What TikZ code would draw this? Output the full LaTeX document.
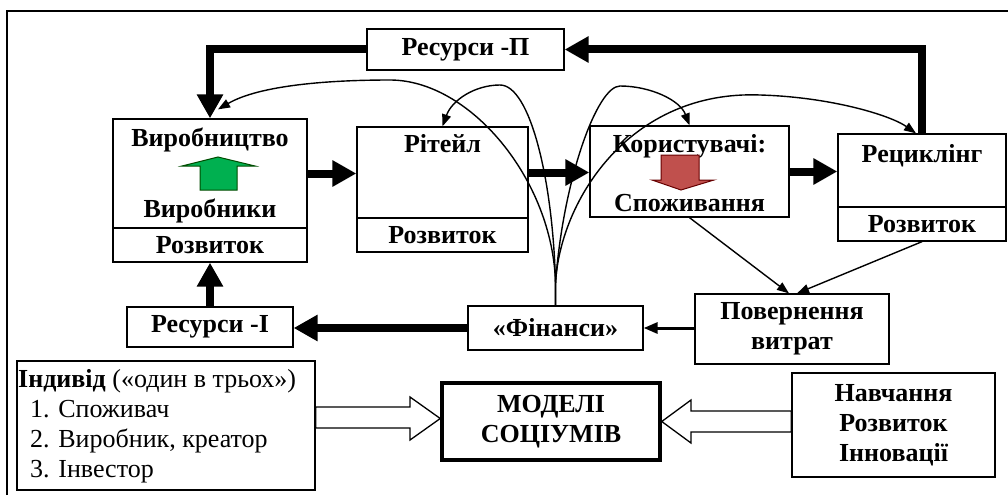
\documentclass[tikz,border=0pt]{standalone}
\usepackage{fontspec}
\setmainfont{Liberation Serif}
\usetikzlibrary{arrows.meta,calc}
\begin{document}
\begin{tikzpicture}[x=1pt,y=-1pt,
  box/.style={draw, line width=1.3pt, inner sep=0pt, align=center},
  lab/.style={font=\fontsize{26}{30}\selectfont\bfseries},
  reg/.style={font=\fontsize{26}{30}\selectfont},
  big/.style={line width=8pt, -{Triangle[length=24pt,width=25pt]}},
  thin/.style={line width=1.4pt, -{Triangle[length=12pt,width=9pt]}},
  mid/.style={line width=3pt, -{Triangle[length=14pt,width=11pt]}},
  hollow/.style={draw, line width=1.3pt, fill=white, line join=miter}
]
\useasboundingbox (0,0) rectangle (1008,495);
\draw[line width=1.5pt] (7,495) -- (7,11) -- (1008,11);

% boxes
\node[box,lab,minimum width=197pt,minimum height=41pt] (resP) at (465.5,49.5) {Ресурси -П};

\node[box,minimum width=194pt,minimum height=109pt] (vyr) at (210,173.5) {};
\node[box,lab,minimum width=194pt,minimum height=34pt] (vyrR) at (210,245) {Розвиток};
\node[lab,anchor=base,inner sep=0pt] (vyrT) at (210,146) {Виробництво};
\node[lab,anchor=base,inner sep=0pt] (vyrB) at (210,217) {Виробники};

\node[box,minimum width=171pt,minimum height=91pt] (ret) at (442.5,172.5) {};
\node[box,lab,minimum width=171pt,minimum height=34pt] (retR) at (442.5,235) {Розвиток};
\node[lab,anchor=base,inner sep=0pt] (retT) at (442.5,152) {Рітейл};

\node[box,minimum width=199pt,minimum height=91pt] (kor) at (689.5,171.5) {};
\node[lab,anchor=base,inner sep=0pt] (korT) at (689.5,152) {Користувачі:};
\node[lab,anchor=base,inner sep=0pt] (korB) at (689.5,211) {Споживання};

\node[box,minimum width=168pt,minimum height=73pt] (rec) at (922,170.5) {};
\node[box,lab,minimum width=168pt,minimum height=34pt] (recR) at (922,224) {Розвиток};
\node[lab,anchor=base,inner sep=0pt] (recT) at (922,162) {Рециклінг};

\node[box,lab,minimum width=166pt,minimum height=40pt] (resI) at (210,327) {Ресурси -І};
\node[box,lab,minimum width=175pt,minimum height=44pt] (fin) at (555.5,328) {«Фінанси»};
\node[box,lab,minimum width=194pt,minimum height=70pt] (pov) at (792,329) {Повернення\\витрат};

\node[box,minimum width=298pt,minimum height=129pt] (ind) at (166,425.5) {};
\node[reg,anchor=base west,inner sep=0pt] (ind0) at (18,387) {\textbf{Індивід} («один в трьох»)};
\node[reg,anchor=base west,inner sep=0pt] (ind1) at (30,417) {1. Споживач};
\node[reg,anchor=base west,inner sep=0pt] (ind2) at (30,447) {2. Виробник, креатор};
\node[reg,anchor=base west,inner sep=0pt] (ind3) at (30,477) {3. Інвестор};

\node[box,lab,line width=3.5pt,minimum width=218pt,minimum height=77pt] (mod) at (551,421.5) {МОДЕЛІ\\СОЦІУМІВ};
\node[box,lab,minimum width=203pt,minimum height=104pt] (nav) at (893.5,425) {Навчання\\Розвиток\\Інновації};

% inner block arrows
\draw[line width=1pt, draw=black!70!green, fill={rgb,255:red,0;green,176;blue,80}]
  (200,190) -- (200,166) -- (182,166) -- (218,157) -- (255,166) -- (237,166) -- (237,190) -- cycle;
\draw[line width=1pt, draw=black!60!red, fill={rgb,255:red,192;green,80;blue,77}]
  (661,155) -- (699,155) -- (699,180) -- (714,180) -- (681,190) -- (652,180) -- (661,180) -- cycle;

% thick connectors
\draw[big] (resP.west) -| (vyr.north);
\draw[big] (rec.north) |- (resP.east);
\draw[big] (vyr.east) -- (ret.west |- vyr.east);
\draw[big] (ret.east) -- (kor.west |- ret.east);
\draw[big] (kor.east) -- (rec.west |- kor.east);
\draw[big] (resI.north) -- (vyrR.south);
\draw[big] (fin.west) -- (resI.east |- fin.west);
\draw[mid] (pov.west |- fin.east) -- (fin.east);

% thin connectors
\draw[thin] (kor.south) -- ($(pov.north)+(-3,0)$);
\draw[thin] (recR.south) -- ($(pov.north)+(5,0)$);

\draw[thin] (fin.north) -- ++(0,-22) .. controls (553,180) and (470,80) .. (390,80)
  .. controls (330,80) and (260,85) .. ($(vyr.north)+(8,-9)$);
\draw[thin] (fin.north) -- ++(0,-22) .. controls (553,180) and (530,85) .. (500,85)
  .. controls (475,85) and (452,100) .. (ret.north);
\draw[thin] (fin.north) -- ++(0,-22) .. controls (563,180) and (597,86) .. (620,86)
  .. controls (650,86) and (680,100) .. (kor.north);
\draw[thin] (fin.north) -- ++(0,-22) .. controls (560,200) and (630,90) .. (760,95)
  .. controls (830,97) and (890,115) .. ($(rec.north)+(-6,0)$);

% hollow arrows to the models box
\draw[hollow] (ind.east |- 0,407) -- (410,407) -- (410,397) -- ($(mod.west)+(0,-3)$)
  -- (410,440) -- (410,428) -- (ind.east |- 0,428) -- cycle;
\draw[hollow] (nav.west |- 0,411) -- (691,411) -- (691,400) -- (mod.east)
  -- (691,443) -- (691,432) -- (nav.west |- 0,432) -- cycle;
\end{tikzpicture}
\end{document}
